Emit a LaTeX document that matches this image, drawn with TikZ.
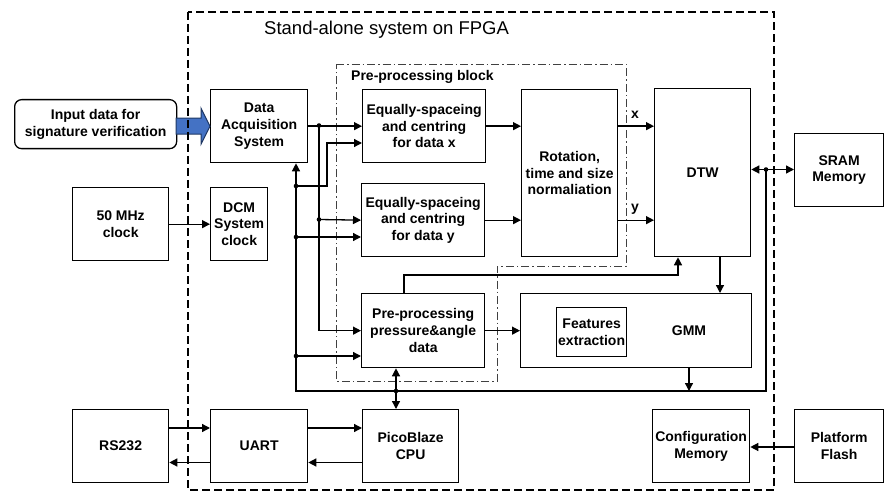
\documentclass[tikz,border=0pt]{standalone}
\usepackage{fontspec}
\setmainfont{Liberation Sans}
\usetikzlibrary{arrows.meta,calc}
\begin{document}
\begin{tikzpicture}[x=1pt,y=-1pt,
  blk/.style={draw, line width=1.3pt, align=center, inner sep=0pt, anchor=north west,
    font=\fontsize{14}{16.7}\selectfont\bfseries},
  lbl/.style={inner sep=0pt, font=\fontsize{14}{16.7}\selectfont\bfseries},
  wire/.style={line width=1.3pt},
  arr/.style={line width=1.3pt, -{Triangle[length=8pt,width=8pt]}},
  dbl/.style={line width=1.3pt, {Triangle[length=8pt,width=8pt]}-{Triangle[length=8pt,width=8pt]}},
  jdot/.style={circle, fill, inner sep=0pt, minimum size=4.6pt},
  fpga/.style={line width=1.4pt, dash pattern=on 8pt off 4pt},
  preblk/.style={line width=0.9pt, draw=black!75, dash pattern=on 8pt off 3pt on 1.5pt off 3pt},
  bigarrow/.style={fill=blue!55!cyan!60!black!75, fill=arrowblue, draw=arrowedge, line width=1pt, line join=miter}
]
\definecolor{arrowblue}{HTML}{4472C4}
\definecolor{arrowedge}{HTML}{1F3864}
\useasboundingbox (0,0) rectangle (884,492);

% ---------- blocks ----------
\node[blk, minimum width=162pt, minimum height=49pt, rounded corners=7pt] (inp) at (14,99) {Input data for\\signature verification};
\node[blk, minimum width=97pt, minimum height=73pt] (daq) at (210,89) {Data\\Acquisition\\System};
\node[blk, minimum width=96pt, minimum height=73pt] (clk) at (72,187) {50 MHz\\clock};
\node[blk, minimum width=57pt, minimum height=73pt] (dcm) at (210,187) {DCM\\System\\clock};
\node[blk, minimum width=123pt, minimum height=73pt] (eqx) at (362,89) {Equally-spaceing\\and centring\\for data x};
\node[blk, minimum width=123pt, minimum height=73pt] (eqy) at (361,183) {Equally-spaceing\\and centring\\for data y};
\node[blk, minimum width=96pt, minimum height=167pt] (rot) at (521,89) {Rotation,\\time and size\\normaliation};
\node[blk, minimum width=96pt, minimum height=168pt] (dtw) at (654,88) {DTW};
\node[blk, minimum width=89pt, minimum height=73pt] (sram) at (794,133) {SRAM\\Memory};
\node[blk, minimum width=123pt, minimum height=74pt] (pre) at (361,293) {Pre-processing\\pressure\&angle\\data};
\node[blk, minimum width=231pt, minimum height=74pt] (gmm) at (520,293) {};
\node[lbl] (gmmlbl) at (689,331) {GMM};
\node[blk, minimum width=70pt, minimum height=49pt] (feat) at (556,307) {Features\\extraction};
\node[blk, minimum width=96pt, minimum height=73pt] (rs) at (72,409) {RS232};
\node[blk, minimum width=97pt, minimum height=73pt] (uart) at (210,409) {UART};
\node[blk, minimum width=96pt, minimum height=73pt] (pico) at (362,409) {PicoBlaze\\CPU};
\node[blk, minimum width=97pt, minimum height=73pt] (cfg) at (652,409) {Configuration\\Memory};
\node[blk, minimum width=89pt, minimum height=73pt] (flash) at (794,409) {Platform\\Flash};

% ---------- group outlines ----------
\draw[preblk] (336,64) -- (626,64) -- (626,266) -- (497,266) -- (497,381) -- (336,381) -- cycle;
\node[lbl, anchor=base west] (pretitle) at (351,81) {Pre-processing block};

% ---------- input arrow ----------
\draw[bigarrow] ($(daq.west)+(-34,-8)$) -- ($(daq.west)+(-9,-8)$) -- ($(daq.west)+(-9,-18)$)
  -- (daq.west) -- ($(daq.west)+(-9,18)$) -- ($(daq.west)+(-9,8)$) -- ($(daq.west)+(-34,8)$) -- cycle;

\draw[fpga] (188,12) rectangle (774,490);
\node[anchor=base west, inner sep=0pt, font=\fontsize{18.5}{22}\selectfont] (title) at (264,35) {Stand-alone system on FPGA};

% ---------- junction points ----------
\coordinate (ja) at (319,125.5);
\coordinate (jb) at (319,219.5);
\coordinate (jc) at (296,186);
\coordinate (jd) at (296,237);
\coordinate (je) at (296,356);
\coordinate (jk) at (327,143);
\coordinate (bl) at (296,391);
\coordinate (br) at (766,391);
\coordinate (bd) at (766,169.5);
\coordinate (bp) at (396,391);
\coordinate (gb) at (689,391);
\coordinate (dg) at (720,280);
\coordinate (pu) at (404,275);
\coordinate (pv) at (678,275);
\coordinate (t1) at (0,428);
\coordinate (t2) at (0,462.5);
\coordinate (t3) at (0,447);

% ---------- connectors ----------
\draw[arr] (clk.east) -- (dcm.west);
\draw[arr] (daq.east) -- (eqx.west);
\draw[arr] (ja) |- (pre.west);
\draw[arr] (jb) -- (eqy.west);
\draw[arr] (jc) -| (jk) -- (eqx.west |- jk);
\draw[arr] (jd) -- (eqy.west |- jd);
\draw[arr] (je) -- (pre.west |- je);
\draw[arr] (bd) -- (br) -- (bl) -- (daq.south -| bl);
\draw[arr] (eqx.east) -- (rot.west |- eqx.east);
\draw[arr] (eqy.east) -- (rot.west |- eqy.east);
\draw[arr] (rot.east |- eqx.east) -- (dtw.west |- eqx.east);
\draw[arr] (rot.east |- eqy.east) -- (dtw.west |- eqy.east);
\node[lbl] (xlbl) at (635,115) {x};
\node[lbl] (ylbl) at (635,209) {y};
\draw[dbl] (dtw.east |- bd) -- (sram.west |- bd);
\draw[arr] (dtw.south -| dg) -- (gmm.north -| dg);
\draw[arr] (pre.north -| pu) -- (pu) -- (pv) -- (dtw.south -| pv);
\draw[arr] (pre.east) -- (gmm.west);
\draw[arr] (gmm.south -| gb) -- (gb);
\draw[dbl] (pre.south -| bp) -- (pico.north -| bp);
\draw[arr] (rs.east |- t1) -- (uart.west |- t1);
\draw[arr] (uart.west |- t2) -- (rs.east |- t2);
\draw[arr] (uart.east |- t1) -- (pico.west |- t1);
\draw[arr] (pico.west |- t2) -- (uart.east |- t2);
\draw[arr] (flash.west |- t3) -- (cfg.east |- t3);

% ---------- junction dots ----------
\foreach \p in {ja,jb,jc,jd,je,bd,bp} \node[jdot] at (\p) {};
\end{tikzpicture}
\end{document}
